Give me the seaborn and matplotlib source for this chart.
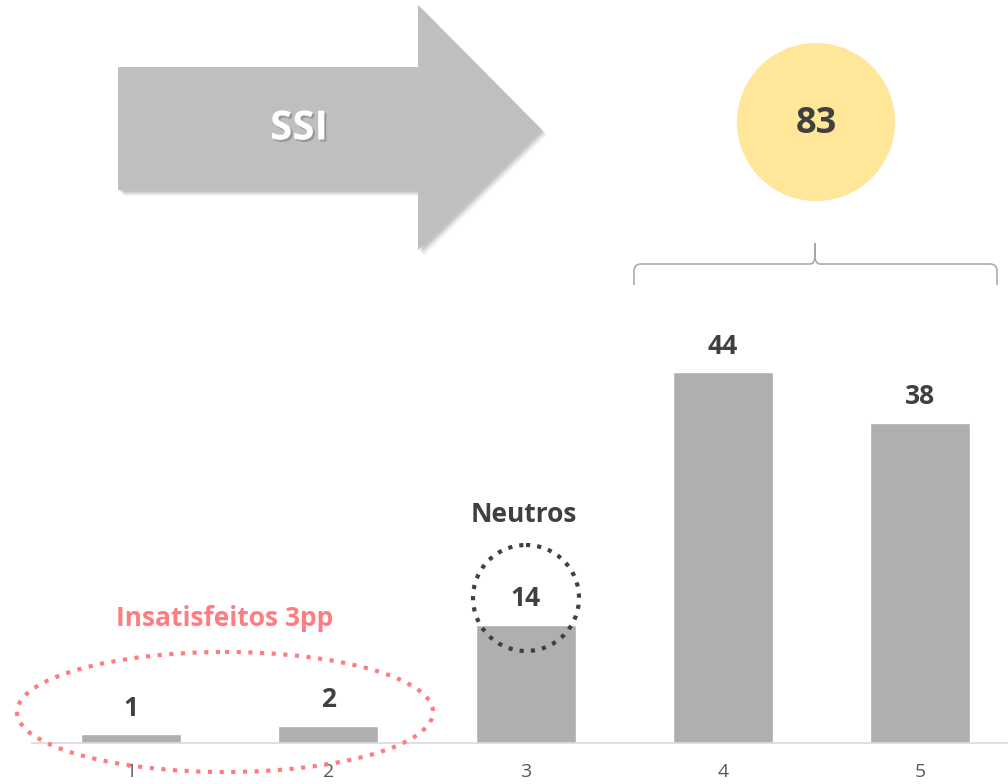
import matplotlib
matplotlib.use("Agg")
import matplotlib.pyplot as plt
import matplotlib.patheffects as pe
from matplotlib.patches import Polygon, Circle, Ellipse, PathPatch
from matplotlib.path import Path
import seaborn as sns

# Satisfaction scale (1-5) and share of answers per score
scores = ["1", "2", "3", "4", "5"]
shares = [1, 2, 14, 44, 38]
ssi_value = 83
ssi_label = "SSI"
neutral_label = "Neutros"
unsatisfied_label = "Insatisfeitos 3pp"

sns.set_theme(style="white")
plt.rcParams["font.family"] = ["Open Sans", "DejaVu Sans"]

BAR = "#AFAFAF"
DARK = "#404040"
PINK = "#FF7C80"

W, H = 1008, 784
fig = plt.figure(figsize=(W / 100, H / 100), dpi=100)

# Bar axes: baseline near the bottom, plot area spanning to the top
px_per_unit = 8.42
base_y = 742.5
left_px = 32.4
step = 197.25
ax = fig.add_axes([left_px / W, (H - base_y) / H, 1 - left_px / W, base_y / H])
sns.barplot(x=scores, y=shares, order=scores, color=BAR, saturation=1,
            width=0.507, errorbar=None, ax=ax)
ax.set_xlim(-0.5, (W - left_px) / step - 0.5)
ax.set_ylim(0, base_y / px_per_unit)
ax.bar_label(ax.containers[0], labels=[str(v) for v in shares], padding=9,
             fontsize=19, fontweight="bold", color=DARK)
for s in ["top", "left", "right"]:
    ax.spines[s].set_visible(False)
ax.spines["bottom"].set_color("#D9D9D9")
ax.spines["bottom"].set_linewidth(1.2)
ax.set_yticks([])
ax.set_xlabel("")
ax.set_ylabel("")
ax.tick_params(axis="x", length=0, pad=15, labelsize=14, labelcolor="#595959")
ax.patch.set_alpha(0)

# Overlay in pixel coordinates for the callouts
ov = fig.add_axes([0, 0, 1, 1])
ov.set_xlim(0, W)
ov.set_ylim(H, 0)
ov.axis("off")
ov.patch.set_alpha(0)

# Big arrow with drop shadow
arrow_pts = [(118, 67), (418, 67), (418, 5), (541, 129), (418, 250),
             (418, 190), (118, 190)]
for k, a in [(6, 0.05), (5, 0.07), (4, 0.09), (3, 0.11), (2, 0.12)]:
    ov.add_patch(Polygon([(x + k, y + k) for x, y in arrow_pts], closed=True,
                         facecolor="#606060", edgecolor="none", alpha=a))
ov.add_patch(Polygon(arrow_pts, closed=True, facecolor="#BFBFBF",
                     edgecolor="none"))
ov.text(299, 129, ssi_label, ha="center", va="center", fontsize=29,
        fontweight="bold", color="white",
        path_effects=[pe.withSimplePatchShadow(offset=(1.5, -1.5),
                                               shadow_rgbFace="#7F7F7F",
                                               alpha=0.6)])

# SSI result bubble
ov.add_patch(Circle((816, 122), 79, facecolor="#FFE699", edgecolor="none"))
ov.text(816, 124, str(ssi_value), ha="center", va="center", fontsize=26,
        fontweight="bold", color=DARK)

# Curly brace over scores 4 and 5
verts = [(634, 285), (634, 271), (634, 264), (641, 264), (810, 264),
         (815, 264), (815, 255), (815, 243), (815, 255), (815, 264),
         (820, 264), (990, 264), (997, 264), (997, 271), (997, 285)]
codes = [Path.MOVETO, Path.LINETO, Path.CURVE3, Path.CURVE3, Path.LINETO,
         Path.CURVE3, Path.CURVE3, Path.LINETO, Path.LINETO, Path.CURVE3,
         Path.CURVE3, Path.LINETO, Path.CURVE3, Path.CURVE3, Path.LINETO]
ov.add_patch(PathPatch(Path(verts, codes), facecolor="none",
                       edgecolor="#A6A6A6", lw=1.1))

# Neutral callout
ov.text(524, 515, neutral_label, ha="center", va="center", fontsize=19,
        fontweight="bold", color=DARK)
ov.add_patch(Circle((526, 598), 53, facecolor="none", edgecolor=DARK,
                    lw=3.0, linestyle=(0, (1, 1.7)), capstyle="butt"))

# Unsatisfied callout
ov.text(225, 618, unsatisfied_label, ha="center", va="center", fontsize=19,
        fontweight="bold", color=PINK)
ov.add_patch(Ellipse((225, 712), 416, 120, facecolor="none", edgecolor=PINK,
                     lw=3.0, linestyle=(0, (1, 1.8)), capstyle="butt"))

fig.savefig("out.png", dpi=100)
